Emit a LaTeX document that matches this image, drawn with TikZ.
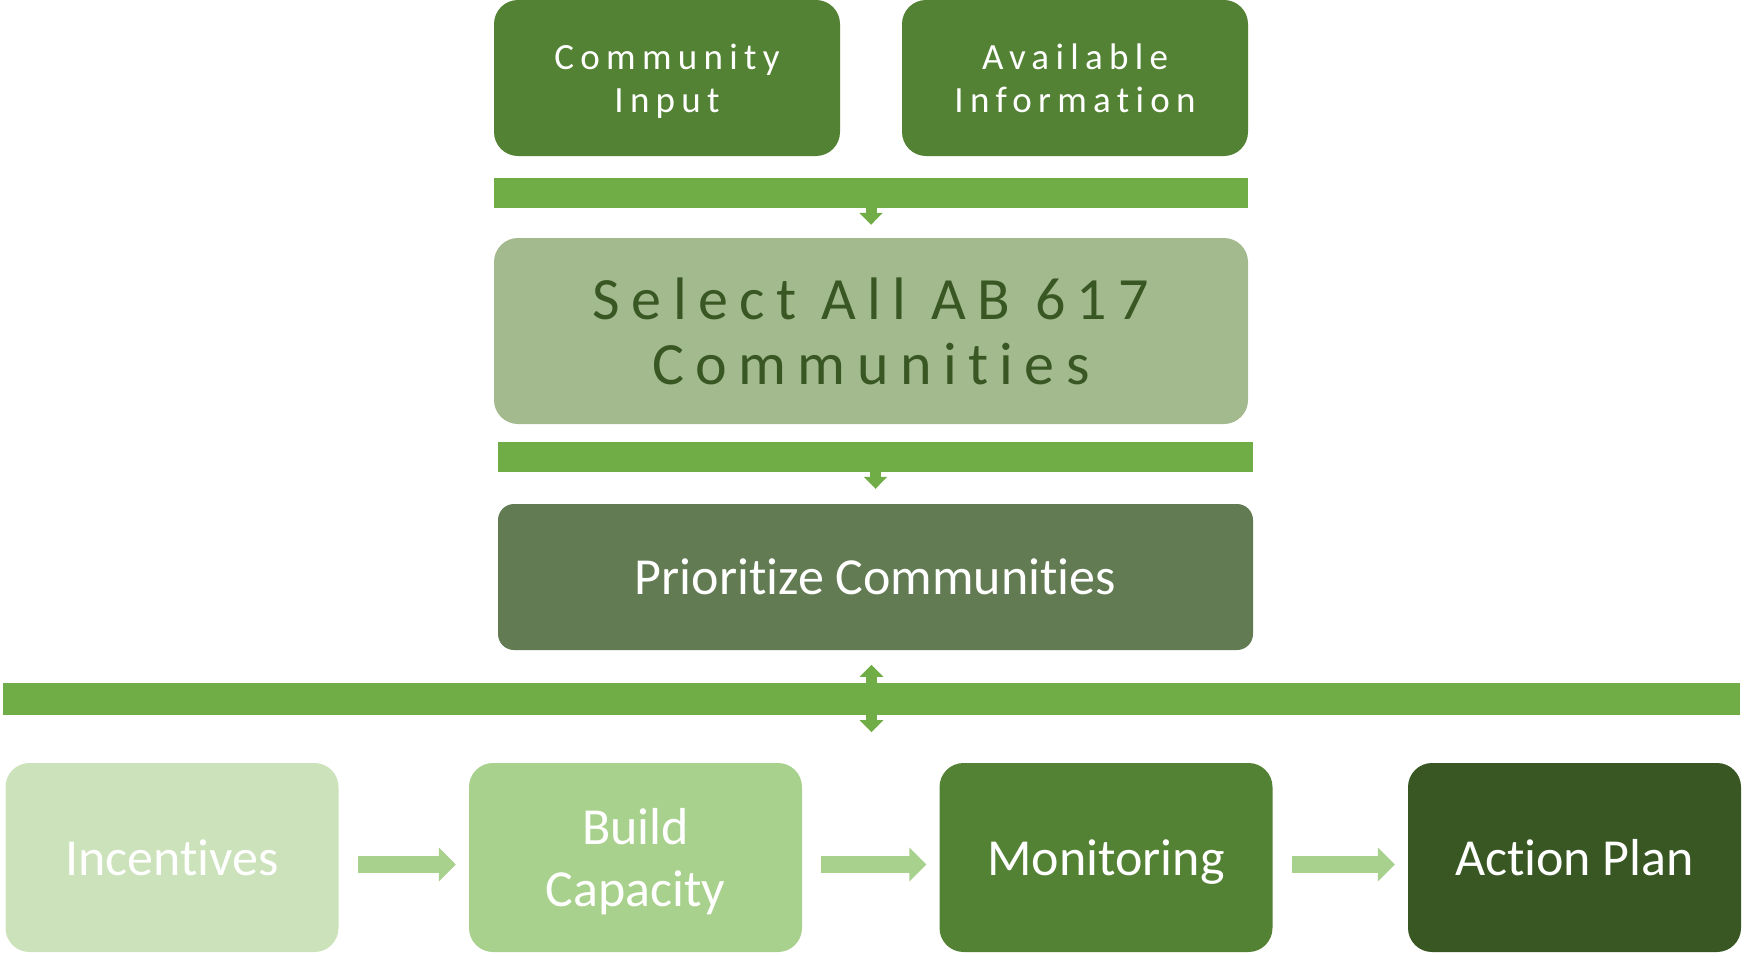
\documentclass[tikz,border=0pt]{standalone}
\usepackage{fontspec}
\setmainfont{Carlito}[Ligatures=CommonOff]
\usetikzlibrary{arrows.meta}

\definecolor{leafGreen}{HTML}{548235}
\definecolor{barGreen}{HTML}{70AD47}
\definecolor{sageGreen}{HTML}{A2BA8E}
\definecolor{mossGreen}{HTML}{637B53}
\definecolor{paleGreen}{HTML}{CBE2BB}
\definecolor{softGreen}{HTML}{A9D18E}
\definecolor{deepGreen}{HTML}{385723}

\begin{document}
\begin{tikzpicture}[x=1pt, y=-1pt,
	box/.style={rounded corners=24pt, inner sep=0pt, align=center, text=white,
		font=\fontsize{52}{62}\selectfont},
	topbox/.style={box, fill=leafGreen, minimum width=346pt, minimum height=156pt, text depth=-4pt,
		font=\fontsize{37}{43}\selectfont\addfontfeatures{LetterSpace=17}},
	rowbox/.style={box, minimum width=333pt, minimum height=189pt, text depth=-3pt},
	bar/.style={fill=barGreen, inner sep=0pt},
	downarrow/.style={draw=barGreen, line width=11pt, -{Triangle[width=23pt,length=12pt]}},
	botharrow/.style={draw=barGreen, line width=11pt,
		{Triangle[width=23pt,length=12pt]}-{Triangle[width=23pt,length=12pt]}},
	fatarrow/.style={draw=softGreen, line width=17pt, -{Triangle[width=33pt,length=17pt]}}]
	
	\useasboundingbox (0,0) rectangle (1744,955);
	
	\def\xMid{871}
	\def\yRow{857.5}
	\def\yLow{-7pt}
	
	% ── Entradas arriba ─────────────────────────────────────────────
	\node[topbox] (input) at (667,78) {Community\\Input};
	\node[topbox] (info) at (1075,78) {Available\\Information};
	
	\node[bar, minimum width=754pt, minimum height=30pt] (barA) at (\xMid,193) {};
	
	% ── Seleccion y prioridad ───────────────────────────────────────
	\node[box, fill=sageGreen, text=deepGreen, minimum width=754pt, minimum height=186pt,
		font=\fontsize{60}{65}\selectfont\addfontfeatures{LetterSpace=19}]
		(select) at (\xMid,331) {Select All AB 617\\Communities};
	\draw[downarrow, shorten >=13pt] (barA.south) -- (select.north);
	
	\node[bar, minimum width=755pt, minimum height=30pt] (barB) at (875.5,457) {};
	
	\node[box, rounded corners=16pt, fill=mossGreen, minimum width=755pt, minimum height=146pt]
		(prio) at (875.5,577) {Prioritize Communities};
	\draw[downarrow, shorten >=15pt] (barB.south) -- (prio.north);
	
	\node[bar, minimum width=1737pt, minimum height=32pt] (barC) at (871.5,699) {};
	\draw[botharrow, shorten <=-18pt, shorten >=-17pt] (barC.north) -- (barC.south);
	
	% ── Fila de abajo ───────────────────────────────────────────────
	\node[rowbox, fill=paleGreen] (incent) at (172,\yRow) {Incentives};
	\node[rowbox, fill=softGreen] (build) at (635.5,\yRow) {Build\\Capacity};
	\node[rowbox, fill=leafGreen] (monit) at (1106,\yRow) {Monitoring};
	\node[rowbox, fill=deepGreen] (action) at (1574.5,\yRow) {Action Plan};
	
	\foreach \a/\b in {incent/build,build/monit,monit/action}{
		\draw[fatarrow, shorten <=19pt, shorten >=13pt]
			([yshift=\yLow]\a.east) -- ([yshift=\yLow]\b.west);
	}
	
\end{tikzpicture}
\end{document}
